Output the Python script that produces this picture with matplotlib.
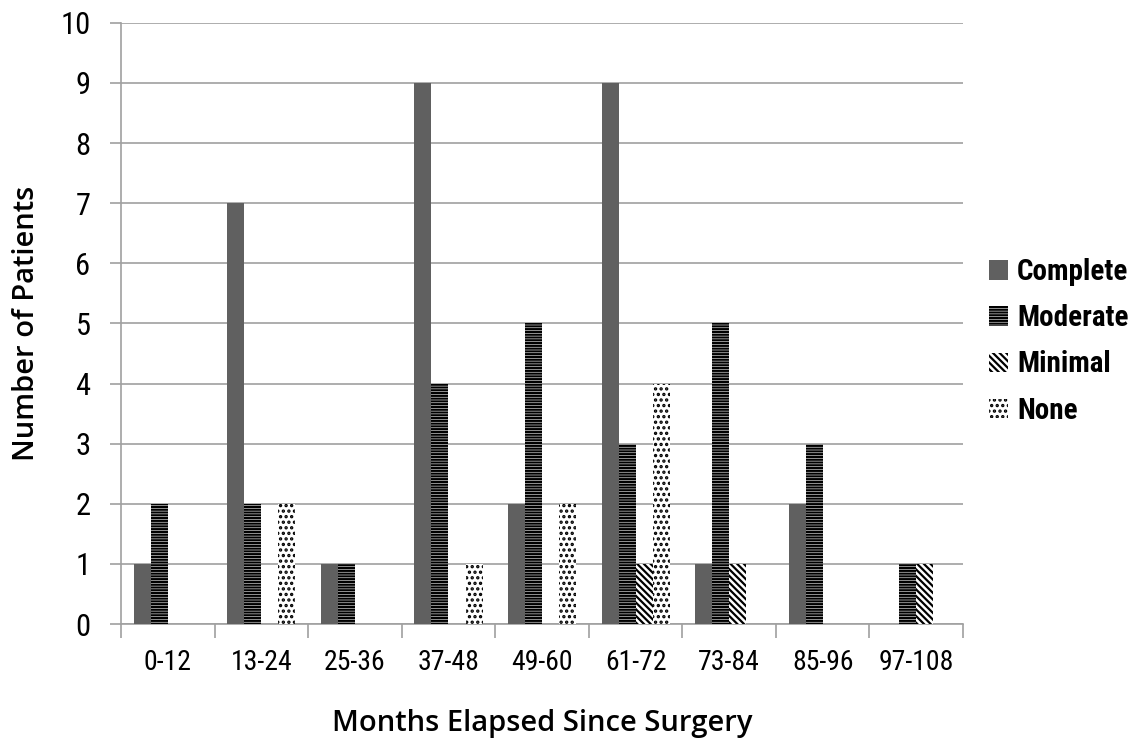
import numpy as np
import matplotlib.pyplot as plt
from matplotlib import font_manager
from matplotlib.patches import Patch

plt.rcParams['hatch.linewidth'] = 1.6

# data
groups = ['0-12', '13-24', '25-36', '37-48', '49-60', '61-72', '73-84', '85-96', '97-108']
complete = [1, 7, 1, 9, 2, 9, 1, 2, 0]
moderate = [2, 2, 1, 4, 5, 3, 5, 3, 1]
minimal = [0, 0, 0, 0, 0, 1, 1, 0, 1]
none_ = [0, 2, 0, 1, 2, 4, 0, 0, 0]
series_names = ['Complete', 'Moderate', 'Minimal', 'None']

names = {f.name for f in font_manager.fontManager.ttflist}
narrow = 'Roboto'
for cand in ['Roboto Condensed', 'Liberation Sans Narrow', 'Open Sans Condensed']:
    if cand in names:
        narrow = cand
        break

fig = plt.figure(figsize=(11.44, 7.45), dpi=100)
ax = fig.add_axes([0.1058, 0.1624, 0.736, 0.807])

x = np.arange(len(groups))
w = 0.182
styles = [
    dict(color='#606060', edgecolor='#606060', hatch=None),
    dict(color='white', edgecolor='black', hatch='------'),
    dict(color='white', edgecolor='black', hatch='\\\\\\\\\\'),
    dict(color='white', edgecolor='black', hatch='...'),
]
data = [complete, moderate, minimal, none_]
for i, (vals, st) in enumerate(zip(data, styles)):
    ax.bar(x - 1.5 * w + i * w, vals, w, color=st['color'], edgecolor=st['edgecolor'],
           hatch=st['hatch'], linewidth=0, zorder=3)

ax.set_xlim(-0.5, len(groups) - 0.5)
ax.set_ylim(0, 10)
ax.set_yticks(range(0, 11))
ax.yaxis.grid(True, color='#a0a0a0', linewidth=1.2, zorder=0)
for s in ['top', 'right']:
    ax.spines[s].set_visible(False)
for s in ['left', 'bottom']:
    ax.spines[s].set_color('#a0a0a0')
    ax.spines[s].set_linewidth(1.2)

ax.set_xticks(x)
ax.set_xticklabels(groups)
ax.set_xticks(np.arange(-0.5, len(groups)), minor=True)
ax.tick_params(axis='x', which='major', length=0, pad=18)
ax.tick_params(axis='x', which='minor', length=10, color='#a0a0a0', width=1.2)
ax.tick_params(axis='y', length=8, color='#a0a0a0', width=1.2, pad=14)
for lab in ax.get_xticklabels():
    lab.set_family(narrow)
    lab.set_fontsize(20)
for lab in ax.get_yticklabels():
    lab.set_family(narrow)
    lab.set_fontsize(22)

ax.set_xlabel('Months Elapsed Since Surgery', fontsize=21, family='Open Sans',
              weight='semibold', labelpad=24)
ax.set_ylabel('Number of Patients', fontsize=21, family='Open Sans',
              weight='semibold', labelpad=14)

handles = [Patch(facecolor=st['color'], edgecolor=st['edgecolor'], hatch=st['hatch'], linewidth=0)
           for st in styles]
leg = ax.legend(handles, series_names, loc='center left', bbox_to_anchor=(1.0, 0.47),
                frameon=False, handlelength=0.65, handleheight=0.65, handletextpad=0.3,
                labelspacing=0.62, prop=dict(family=narrow, weight='bold', size=21))

fig.savefig('out.png', dpi=100)
